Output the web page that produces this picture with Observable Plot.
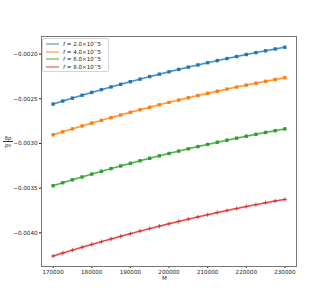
<!DOCTYPE html>
<html><head><meta charset="utf-8">
<script src="https://cdn.jsdelivr.net/npm/d3@7"></script>
<script src="https://cdn.jsdelivr.net/npm/@observablehq/plot@0.6"></script>
<style>
body{margin:0;background:#fff;}
#wrap{position:relative;width:329px;height:299px;font-family:"DejaVu Sans",sans-serif;color:#222;}
#legend{position:absolute;left:42px;top:38px;width:67px;height:34px;border:1px solid #d4d4d4;border-radius:2px;background:rgba(255,255,255,0.85);box-sizing:border-box;}
.item{position:absolute;left:0;height:8px;font-size:5.6px;line-height:8px;white-space:nowrap;}
.sw{position:absolute;left:3px;top:3px;width:13px;height:2px;opacity:0.45;}
.lt{position:absolute;left:20px;top:0;}
.sup{font-size:4.2px;position:relative;top:-2px;}
#ylab{position:absolute;left:3px;top:135px;width:10px;font-size:5.4px;text-align:center;line-height:6px;}
#ylab .num{border-bottom:0.6px solid #333;}
#xlab{position:absolute;left:0;width:329px;text-align:center;top:275px;font-size:5.6px;}
</style></head><body><div id="wrap"></div>
<script>
const M = [170000,172500,175000,177500,180000,182500,185000,187500,190000,192500,195000,197500,200000,202500,205000,207500,210000,212500,215000,217500,220000,222500,225000,227500,230000];
const f2 = [-0.0025590,-0.0025256,-0.0024928,-0.0024606,-0.0024290,-0.0023980,-0.0023676,-0.0023378,-0.0023086,-0.0022800,-0.0022520,-0.0022246,-0.0021978,-0.0021716,-0.0021460,-0.0021210,-0.0020966,-0.0020728,-0.0020496,-0.0020270,-0.0020050,-0.0019836,-0.0019628,-0.0019426,-0.0019230];
const f4 = [-0.0029030,-0.0028695,-0.0028365,-0.0028042,-0.0027725,-0.0027414,-0.0027109,-0.0026810,-0.0026517,-0.0026230,-0.0025949,-0.0025674,-0.0025405,-0.0025142,-0.0024885,-0.0024634,-0.0024389,-0.0024150,-0.0023917,-0.0023690,-0.0023469,-0.0023254,-0.0023045,-0.0022842,-0.0022645];
const f6 = [-0.0034730,-0.0034396,-0.0034068,-0.0033746,-0.0033430,-0.0033120,-0.0032816,-0.0032518,-0.0032226,-0.0031940,-0.0031660,-0.0031386,-0.0031118,-0.0030856,-0.0030600,-0.0030350,-0.0030106,-0.0029868,-0.0029636,-0.0029410,-0.0029190,-0.0028976,-0.0028768,-0.0028566,-0.0028370];
const f8 = [-0.0042600,-0.0042266,-0.0041938,-0.0041616,-0.0041300,-0.0040990,-0.0040686,-0.0040388,-0.0040096,-0.0039810,-0.0039530,-0.0039256,-0.0038988,-0.0038726,-0.0038470,-0.0038220,-0.0037976,-0.0037738,-0.0037506,-0.0037280,-0.0037060,-0.0036846,-0.0036638,-0.0036436,-0.0036260];
const seriesNames = ["2.0","4.0","6.0","8.0"];
const colors = ["#1f77b4","#ff7f0e","#2ca02c","#d62728"];
const xTicks = [170000,180000,190000,200000,210000,220000,230000];
const yTicks = [-0.0040,-0.0035,-0.0030,-0.0025,-0.0020];

const allSeries = [f2,f4,f6,f8];
const rows = [];
allSeries.forEach((arr,si)=>arr.forEach((v,i)=>rows.push({M:M[i],v,s:seriesNames[si]})));

const chart = Plot.plot({
  width:329, height:299,
  marginLeft:41, marginRight:33, marginTop:36, marginBottom:33,
  style:{fontFamily:"DejaVu Sans, sans-serif", fontSize:"5.6px", color:"#222", background:"white", overflow:"visible"},
  x:{domain:[167000,233000], ticks:xTicks, tickFormat:d=>String(d), tickSize:2, tickPadding:2, label:null},
  y:{domain:[-0.004377,-0.001803], ticks:yTicks, tickFormat:d=>"\u2212"+Math.abs(d).toFixed(4), tickSize:2, tickPadding:2, label:null},
  color:{domain:seriesNames, range:colors},
  marks:[
    Plot.frame({stroke:"#777", strokeWidth:1}),
    Plot.line(rows,{x:"M",y:"v",z:"s",stroke:"s",strokeOpacity:0.45,strokeWidth:2}),
    Plot.line(rows,{x:"M",y:"v",z:"s",stroke:"s",strokeWidth:0.8}),
    Plot.dot(rows.filter(d=>d.s!=="8.0"),{x:"M",y:"v",fill:"s",symbol:"square",r:1.9}),
    Plot.dot(rows.filter(d=>d.s==="8.0"),{x:"M",y:"v",stroke:"s",symbol:"plus",r:1.5,strokeWidth:0.8})
  ]
});
const wrap = document.getElementById("wrap");
wrap.appendChild(chart);

const leg = document.createElement("div");
leg.id = "legend";
seriesNames.forEach((n,i)=>{
  const it = document.createElement("div");
  it.className = "item";
  it.style.top = (1 + i*7.7) + "px";
  it.innerHTML = `<span class="sw" style="background:${colors[i]}"></span><span class="lt"><i>f</i> = ${n}×10<span class="sup">\u2212</span>5</span>`;
  leg.appendChild(it);
});
wrap.appendChild(leg);

const yl = document.createElement("div");
yl.id = "ylab";
yl.innerHTML = `<div class="num">δ<i>p</i></div><div><i>p</i><span style="font-size:4px">0</span></div>`;
wrap.appendChild(yl);

const xl = document.createElement("div");
xl.id = "xlab";
xl.textContent = "M";
wrap.appendChild(xl);
</script>
</body></html>
